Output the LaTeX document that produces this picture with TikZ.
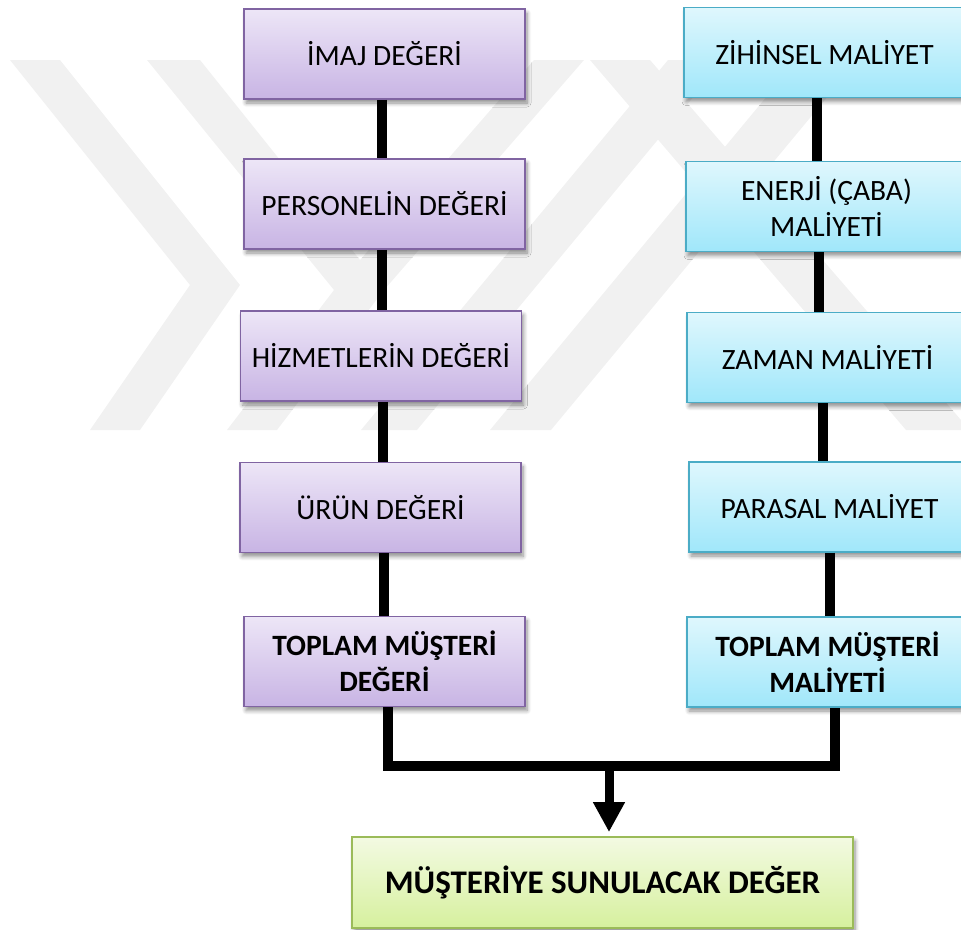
\documentclass[tikz,border=0pt]{standalone}
\usepackage{fontspec}
\setmainfont{Carlito}
\usetikzlibrary{arrows.meta,shadows.blur,calc}

\definecolor{valtop}{RGB}{237,230,247}
\definecolor{valbot}{RGB}{200,180,228}
\definecolor{valline}{RGB}{128,100,162}
\definecolor{costtop}{RGB}{223,247,253}
\definecolor{costbot}{RGB}{160,231,250}
\definecolor{costline}{RGB}{75,172,198}
\definecolor{restop}{RGB}{243,250,226}
\definecolor{resbot}{RGB}{214,240,158}
\definecolor{resline}{RGB}{155,187,89}
\definecolor{markgray}{RGB}{241,241,241}

\tikzset{
  box/.style={draw, line width=1.8pt, minimum width=281pt, minimum height=90pt,
    inner sep=0pt, align=center, font=\fontsize{29.5}{36}\selectfont,
    blur shadow={shadow xshift=2pt, shadow yshift=-4pt, shadow blur radius=4pt,
      shadow blur steps=6, shadow opacity=45}},
  valbox/.style={box, draw=valline, top color=valtop, bottom color=valbot},
  costbox/.style={box, draw=costline, top color=costtop, bottom color=costbot},
  resbox/.style={box, draw=resline, top color=restop, bottom color=resbot,
    minimum width=501pt, minimum height=91pt, font=\fontsize{33}{40}\selectfont},
  link/.style={line width=10pt, black},
  emblem/.style={fill=markgray, draw=none},
}

\begin{document}
\begin{tikzpicture}[x=1pt, y=-1pt]
\useasboundingbox (0,0) rectangle (961,929);

% faint background emblem
\fill[emblem] (10,60) -- (60,60) -- (240,285) -- (140,430) -- (90,430) -- (190,285) -- cycle;
\fill[emblem] (147,60) -- (200,60) -- (384,290) -- (277,430) -- (227,430) -- (334,290) -- cycle;
\fill[emblem] (334,290) -- (534,60) -- (584,60) -- (384,290) -- cycle;
\fill[emblem] (590,60) -- (650,60) -- (961,420) -- (961,430) -- (906,430) -- cycle;
\fill[emblem] (361,430) -- (417,430) -- (724,60) -- (668,60) -- cycle;
\fill[emblem] (490,430) -- (551,430) -- (858,60) -- (797,60) -- cycle;

% value column
\node[valbox] (L1) at (384.5,54)  {İMAJ DEĞERİ};
\node[valbox] (L2) at (384.5,204) {PERSONELİN DEĞERİ};
\node[valbox] (L3) at (381,356)   {HİZMETLERİN DEĞERİ};
\node[valbox] (L4) at (380.5,507.5) {ÜRÜN DEĞERİ};
\node[valbox] (L5) at (384.5,661.5) {\textbf{TOPLAM MÜŞTERİ}\\\textbf{DEĞERİ}};

% cost column
\node[costbox] (R1) at (824.5,52.5)  {ZİHİNSEL MALİYET};
\node[costbox] (R2) at (826.5,206.5) {ENERJİ (ÇABA)\\MALİYETİ};
\node[costbox] (R3) at (827.5,357.5) {ZAMAN MALİYETİ};
\node[costbox] (R4) at (829.5,507)   {PARASAL MALİYET};
\node[costbox] (R5) at (827.5,662)   {\textbf{TOPLAM MÜŞTERİ}\\\textbf{MALİYETİ}};

% result
\node[resbox] (G) at (602.5,882.5) {\textbf{MÜŞTERİYE SUNULACAK DEĞER}};

% links inside the value column
\draw[link] ([xshift=-3pt]L1.south) -- ([xshift=-3pt]L1.south |- L2.north);
\draw[link] ([xshift=-3pt]L2.south) -- ([xshift=-3pt]L2.south |- L3.north);
\draw[link] ([xshift=2pt]L3.south)  -- ([xshift=2pt]L3.south |- L4.north);
\draw[link] ([xshift=3pt]L4.south)  -- ([xshift=3pt]L4.south |- L5.north);

% links inside the cost column
\draw[link] ([xshift=-7.5pt]R1.south) -- ([xshift=-7.5pt]R1.south |- R2.north);
\draw[link] ([xshift=-8pt]R2.south)   -- ([xshift=-8pt]R2.south |- R3.north);
\draw[link] ([xshift=-4.5pt]R3.south) -- ([xshift=-4.5pt]R3.south |- R4.north);
\draw[link] ([xshift=0.5pt]R4.south)  -- ([xshift=0.5pt]R4.south |- R5.north);

% joining both totals into the result
\coordinate (m) at (609,766);
\draw[link, line join=miter] ([xshift=3.5pt]L5.south) |- (m) -| ([xshift=7pt]R5.south);
\draw[link, line width=9pt, shorten >=4pt, -{Triangle[length=30pt,width=30pt]}] (m) -- (m |- G.north);
\end{tikzpicture}
\end{document}
